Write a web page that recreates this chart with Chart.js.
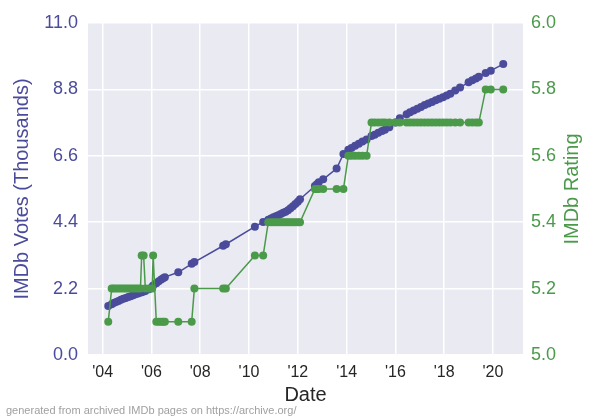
<!DOCTYPE html>
<html>
<head>
<meta charset="utf-8">
<script src="https://cdn.jsdelivr.net/npm/chart.js@4/dist/chart.umd.min.js"></script>
<style>
  body { margin: 0; background: #fff; }
  canvas { display: block; }
</style>
</head>
<body>
<canvas id="chart" width="600" height="420"></canvas>
<script>
// archive snapshot dates (decimal years)
const dates = [
  2004.23, 2004.37, 2004.45, 2004.55, 2004.65, 2004.75, 2004.85, 2004.95, 2005.05, 2005.15,
  2005.25, 2005.35, 2005.45, 2005.55, 2005.60, 2005.68, 2005.75, 2005.90, 2006.03, 2006.07,
  2006.20, 2006.30, 2006.40, 2006.48, 2006.55, 2007.10, 2007.65, 2007.76, 2008.94, 2009.05,
  2010.24, 2010.58, 2010.79, 2010.90, 2011.00, 2011.10, 2011.20, 2011.30, 2011.40, 2011.50,
  2011.60, 2011.70, 2011.80, 2011.90, 2012.00, 2012.09, 2012.70, 2012.78, 2012.86, 2013.04,
  2013.59, 2013.87, 2014.07, 2014.20, 2014.35, 2014.50, 2014.65, 2014.82, 2015.02, 2015.15,
  2015.30, 2015.45, 2015.57, 2015.75, 2016.00, 2016.18, 2016.46, 2016.60, 2016.75, 2016.90,
  2017.05, 2017.20, 2017.35, 2017.50, 2017.65, 2017.80, 2017.95, 2018.10, 2018.25, 2018.45,
  2018.65, 2019.00, 2019.15, 2019.30, 2019.42, 2019.70, 2019.91, 2020.42
]
const votes = [
  1.62, 1.68, 1.72, 1.76, 1.79, 1.83, 1.86, 1.89, 1.92, 1.95,
  1.98, 2.01, 2.04, 2.07, 2.08, 2.10, 2.12, 2.18, 2.25, 2.30,
  2.38, 2.44, 2.50, 2.54, 2.58, 2.74, 3.02, 3.08, 3.62, 3.67,
  4.25, 4.41, 4.48, 4.52, 4.56, 4.60, 4.63, 4.67, 4.71, 4.75,
  4.80, 4.86, 4.93, 5.00, 5.08, 5.16, 5.60, 5.66, 5.72, 5.82,
  6.18, 6.66, 6.80, 6.86, 6.93, 7.00, 7.07, 7.14, 7.26, 7.30,
  7.36, 7.42, 7.46, 7.55, 7.70, 7.84, 7.98, 8.04, 8.10, 8.16,
  8.22, 8.28, 8.33, 8.38, 8.44, 8.49, 8.54, 8.60, 8.66, 8.76,
  8.86, 9.04, 9.10, 9.16, 9.22, 9.34, 9.42, 9.64
]
const ratings = [
  5.1, 5.2, 5.2, 5.2, 5.2, 5.2, 5.2, 5.2, 5.2, 5.2,
  5.2, 5.2, 5.2, 5.2, 5.3, 5.3, 5.2, 5.2, 5.2, 5.3,
  5.1, 5.1, 5.1, 5.1, 5.1, 5.1, 5.1, 5.2, 5.2, 5.2,
  5.3, 5.3, 5.4, 5.4, 5.4, 5.4, 5.4, 5.4, 5.4, 5.4,
  5.4, 5.4, 5.4, 5.4, 5.4, 5.4, 5.5, 5.5, 5.5, 5.5,
  5.5, 5.5, 5.6, 5.6, 5.6, 5.6, 5.6, 5.6, 5.7, 5.7,
  5.7, 5.7, 5.7, 5.7, 5.7, 5.7, 5.7, 5.7, 5.7, 5.7,
  5.7, 5.7, 5.7, 5.7, 5.7, 5.7, 5.7, 5.7, 5.7, 5.7,
  5.7, 5.7, 5.7, 5.7, 5.7, 5.8, 5.8, 5.8
]
const yearTicks = [2004, 2006, 2008, 2010, 2012, 2014, 2016, 2018, 2020]
const voteTicks = [0, 2.2, 4.4, 6.6, 8.8, 11.0]
const ratingTicks = [5.0, 5.2, 5.4, 5.6, 5.8, 6.0]

const blue = '#4b4b9c'
const green = '#4a9a4a'
const footerText = 'generated from archived IMDb pages on https://archive.org/'

const setTicks = values => axis => {
    axis.ticks = values.map(v => ({ value: v }))
}

const extras = {
    id: 'extras',
    beforeDraw(chart) {
        const { ctx, chartArea } = chart
        ctx.save()
        ctx.fillStyle = '#eaeaf2'
        ctx.fillRect(chartArea.left, chartArea.top, chartArea.right - chartArea.left, chartArea.bottom - chartArea.top)
        ctx.restore()
    },
    afterDraw(chart) {
        const { ctx, chartArea } = chart
        ctx.save()
        // right axis title, reads bottom to top
        ctx.translate(572, (chartArea.top + chartArea.bottom) / 2)
        ctx.rotate(-Math.PI / 2)
        ctx.fillStyle = green
        ctx.font = '20px "Liberation Sans", Arial, sans-serif'
        ctx.textAlign = 'center'
        ctx.textBaseline = 'middle'
        ctx.fillText('IMDb Rating', 0, 0)
        ctx.restore()

        ctx.save()
        ctx.fillStyle = '#a0a0a0'
        ctx.font = '11px "Liberation Sans", Arial, sans-serif'
        ctx.textBaseline = 'middle'
        ctx.fillText(footerText, 6, 411)
        ctx.restore()
    }
}

new Chart(document.getElementById('chart'), {
    type: 'line',
    data: {
        datasets: [
            {
                label: 'IMDb Votes (Thousands)',
                data: dates.map((d, i) => ({ x: d, y: votes[i] })),
                yAxisID: 'y',
                borderColor: blue,
                backgroundColor: blue,
                borderWidth: 1.5,
                pointRadius: 4,
                pointBorderWidth: 0,
                order: 1
            },
            {
                label: 'IMDb Rating',
                data: dates.map((d, i) => ({ x: d, y: ratings[i] })),
                yAxisID: 'y2',
                borderColor: green,
                backgroundColor: green,
                borderWidth: 1.5,
                pointRadius: 4,
                pointBorderWidth: 0,
                order: 0
            }
        ]
    },
    options: {
        responsive: false,
        animation: false,
        devicePixelRatio: 1,
        layout: { padding: { top: 23, left: 0, right: 0, bottom: 0 } },
        plugins: { legend: { display: false }, tooltip: { enabled: false } },
        scales: {
            x: {
                type: 'linear',
                position: 'bottom',
                min: 2003.40,
                max: 2021.23,
                afterBuildTicks: setTicks(yearTicks),
                afterFit: axis => { axis.height = 65 },
                border: { display: false },
                grid: { color: '#ffffff', lineWidth: 1.5, drawTicks: false },
                ticks: {
                    padding: 8,
                    color: '#262626',
                    font: { family: '"Liberation Sans", Arial, sans-serif', size: 16 },
                    callback: v => "'" + String(v).slice(2)
                },
                title: {
                    display: true,
                    text: 'Date',
                    color: '#262626',
                    font: { family: '"Liberation Sans", Arial, sans-serif', size: 20 },
                    padding: { top: 0, bottom: 13 }
                }
            },
            y: {
                position: 'left',
                min: 0,
                max: 11,
                afterBuildTicks: setTicks(voteTicks),
                afterFit: axis => { axis.width = 88 },
                border: { display: false },
                grid: { color: '#ffffff', lineWidth: 1.5, drawTicks: false },
                ticks: {
                    padding: 10,
                    color: blue,
                    font: { family: '"Liberation Sans", Arial, sans-serif', size: 18 },
                    callback: v => v.toFixed(1)
                },
                title: {
                    display: true,
                    text: 'IMDb Votes (Thousands)',
                    color: blue,
                    font: { family: '"Liberation Sans", Arial, sans-serif', size: 20 },
                    padding: { top: 10, bottom: 0 }
                }
            },
            y2: {
                position: 'right',
                min: 5,
                max: 6,
                afterBuildTicks: setTicks(ratingTicks),
                afterFit: axis => { axis.width = 77 },
                border: { display: false },
                grid: { display: false, drawTicks: false },
                ticks: {
                    padding: 8,
                    color: green,
                    font: { family: '"Liberation Sans", Arial, sans-serif', size: 18 },
                    callback: v => v.toFixed(1)
                }
            }
        }
    },
    plugins: [extras]
})
</script>
</body>
</html>
